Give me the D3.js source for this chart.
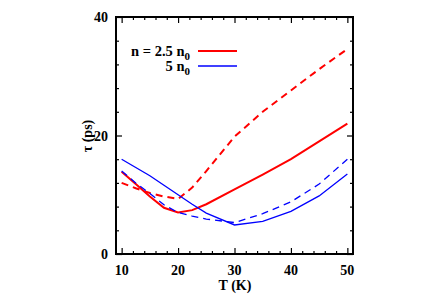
<!DOCTYPE html>
<html>
<head>
<meta charset="utf-8">
<script src="https://cdn.jsdelivr.net/npm/d3@7"></script>
<style>
  body { margin: 0; background: #fff; }
  text { font-family: "Liberation Serif", "DejaVu Serif", serif; font-weight: bold; }
</style>
</head>
<body>
<div class="chart"></div>
<script>
var width = 428,
    height = 300;

// temperatures (K)
var temps = [10, 12.5, 15, 17.5, 20, 22.5, 25, 30, 35, 40, 45, 50];

// relaxation time tau (ps)
var red_solid  = [13.9, 11.8, 9.7, 7.8, 7.0, 7.4, 8.4, 10.9, 13.4, 16.0, 19.0, 22.0];
var red_dashed = [12.0, 11.1, 10.3, 9.7, 9.3, 11.2, 14.0, 19.8, 24.0, 27.6, 31.2, 34.6];
var blue_solid  = [16.0, 14.6, 13.2, 11.6, 10.0, 8.4, 6.9, 4.9, 5.5, 7.2, 9.8, 13.5];
var blue_dashed = [14.0, 12.0, 10.2, 8.3, 7.0, 6.4, 5.9, 5.3, 6.8, 8.8, 11.8, 16.0];

var xTicks = [10, 20, 30, 40, 50];
var yTicks = [0, 20, 40];

var svg = d3.select(".chart")
  .append("svg")
    .attr("width", width)
    .attr("height", height);

var pLeft = 116, pRight = 353, pTop = 17, pBottom = 254;

var x = d3.scaleLinear().domain([9, 51]).range([pLeft, pRight]);
var y = d3.scaleLinear().domain([0, 40]).range([pBottom, pTop]);

// ticks on all four sides, pointing inward
var xMinor = d3.range(10, 51, 2).filter(function(v) { return v % 10 != 0; });
var yMinor = d3.range(4, 40, 4).filter(function(v) { return v % 20 != 0; });

function tickSet(axisFn, vals, size, pos) {
  svg.append("g")
    .attr("transform", pos)
    .call(axisFn.tickValues(vals).tickSize(size).tickFormat(""))
    .call(function(g) { g.select(".domain").remove(); })
    .selectAll("line").attr("stroke", "#000").attr("stroke-width", 1.2);
}
tickSet(d3.axisTop(x), xTicks, 6, "translate(0," + pBottom + ")");
tickSet(d3.axisTop(x), xMinor, 3, "translate(0," + pBottom + ")");
tickSet(d3.axisBottom(x), xTicks, 6, "translate(0," + pTop + ")");
tickSet(d3.axisBottom(x), xMinor, 3, "translate(0," + pTop + ")");
tickSet(d3.axisRight(y), yTicks, 6, "translate(" + pLeft + ",0)");
tickSet(d3.axisRight(y), yMinor, 3, "translate(" + pLeft + ",0)");
tickSet(d3.axisLeft(y), yTicks, 6, "translate(" + pRight + ",0)");
tickSet(d3.axisLeft(y), yMinor, 3, "translate(" + pRight + ",0)");

// tick labels
svg.selectAll(".xlab").data(xTicks).enter().append("text")
  .attr("x", function(d) { return x(d); })
  .attr("y", pBottom + 21)
  .attr("text-anchor", "middle")
  .style("font-size", "14px")
  .text(function(d) { return d; });

svg.selectAll(".ylab").data(yTicks).enter().append("text")
  .attr("x", pLeft - 8)
  .attr("y", function(d) { return y(d) + 5; })
  .attr("text-anchor", "end")
  .style("font-size", "14px")
  .text(function(d) { return d; });

// axis titles
svg.append("text")
  .attr("x", 235).attr("y", 290)
  .attr("text-anchor", "middle")
  .style("font-size", "14px")
  .text("T (K)");

svg.append("text")
  .attr("transform", "translate(92,136) rotate(-90)")
  .attr("text-anchor", "middle")
  .style("font-size", "14px")
  .text("\u03c4 (ps)");

// curves
var line = d3.line()
  .x(function(d) { return x(d[0]); })
  .y(function(d) { return y(d[1]); });

var series = [
  { vals: red_solid,   color: "#ff0000", w: 2,   dash: null },
  { vals: red_dashed,  color: "#ff0000", w: 2,   dash: "7,5" },
  { vals: blue_solid,  color: "#0000ff", w: 1.3, dash: null },
  { vals: blue_dashed, color: "#0000ff", w: 1.3, dash: "7,5" }
];

svg.selectAll(".curve").data(series).enter().append("path")
  .attr("d", function(s) { return line(d3.zip(temps, s.vals)); })
  .attr("fill", "none")
  .attr("stroke", function(s) { return s.color; })
  .attr("stroke-width", function(s) { return s.w; })
  .attr("stroke-dasharray", function(s) { return s.dash; });

// frame
svg.append("rect")
  .attr("x", pLeft).attr("y", pTop)
  .attr("width", pRight - pLeft).attr("height", pBottom - pTop)
  .attr("fill", "none")
  .attr("stroke", "#000")
  .attr("stroke-width", 2);

// legend
var legend = [
  { pre: "n = 2.5 n", color: "#ff0000", w: 2, yy: 51 },
  { pre: "5 n", color: "#0000ff", w: 1.3, yy: 66 }
];
legend.forEach(function(l) {
  var t = svg.append("text")
    .attr("x", 190).attr("y", l.yy + 5)
    .attr("text-anchor", "end")
    .style("font-size", "14.5px");
  t.append("tspan").text(l.pre);
  t.append("tspan").attr("dy", 4).style("font-size", "11px").text("0");
  svg.append("line")
    .attr("x1", 198).attr("x2", 237)
    .attr("y1", l.yy).attr("y2", l.yy)
    .attr("stroke", l.color)
    .attr("stroke-width", l.w);
});
</script>
</body>
</html>
